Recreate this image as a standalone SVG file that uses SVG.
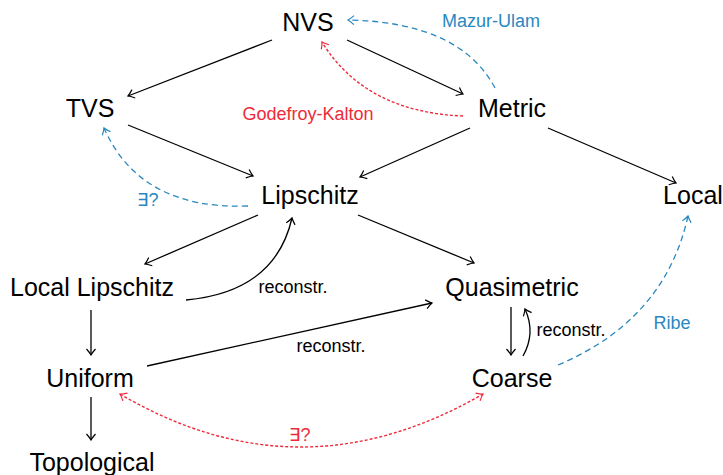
<svg xmlns="http://www.w3.org/2000/svg" width="723" height="475" viewBox="0 0 723 475">
<style>
.n{font-family:"Liberation Sans",Arial,sans-serif;font-size:25px;fill:#000;text-anchor:middle}
.s{font-family:"Liberation Sans",Arial,sans-serif;font-size:18px;text-anchor:middle}
.k{stroke:#000;stroke-width:1.3;fill:none;marker-end:url(#ak)}
.b{stroke:#2a88c0;stroke-width:1.3;fill:none;stroke-dasharray:6 4;marker-end:url(#ab)}
.r{stroke:#ee2a3a;stroke-width:1.4;fill:none;stroke-dasharray:3 2;marker-end:url(#ar)}
</style>
<defs>
<marker id="ak" viewBox="-10 -6 12 12" refX="0" refY="0" markerWidth="12" markerHeight="12" markerUnits="userSpaceOnUse" orient="auto"><path d="M-6,-4.5 Q-2,-1 0,0 Q-2,1 -6,4.5" fill="none" stroke="#000" stroke-width="1.2"/></marker>
<marker id="ab" viewBox="-10 -6 12 12" refX="0" refY="0" markerWidth="12" markerHeight="12" markerUnits="userSpaceOnUse" orient="auto"><path d="M-6,-4.5 Q-2,-1 0,0 Q-2,1 -6,4.5" fill="none" stroke="#2a88c0" stroke-width="1.2"/></marker>
<marker id="ar" viewBox="-10 -6 12 12" refX="0" refY="0" markerWidth="12" markerHeight="12" markerUnits="userSpaceOnUse" orient="auto-start-reverse"><path d="M-6,-4.5 Q-2,-1 0,0 Q-2,1 -6,4.5" fill="none" stroke="#ee2a3a" stroke-width="1.2"/></marker>
</defs>
<g id="connectors">
<path class="k" d="M272,40 L128,96"/>
<path class="k" d="M347,40 L463,94"/>
<path class="k" d="M128,125 L253,176"/>
<path class="k" d="M470,128 L360,177"/>
<path class="k" d="M548,128 L676,183"/>
<path class="k" d="M258,215 L145,264"/>
<path class="k" d="M358,215 L474,263"/>
<path class="k" d="M186,300 Q275,292 292,218"/>
<path class="k" d="M91,310 L91,355"/>
<path class="k" d="M147,366 L432,303"/>
<path class="k" d="M511,307 L511,355"/>
<path class="k" d="M523,356 Q536,333 525,309"/>
<path class="k" d="M91,397 L91,440"/>
<path class="b" d="M495,88 Q460,22 348,20"/>
<path class="b" d="M248,206 Q140,210 104,128"/>
<path class="b" d="M558,365 Q665,320 688,216"/>
<path class="r" d="M463,116 Q365,112 322,42"/>
<path class="r" style="marker-start:url(#ar)" d="M120,394 Q300,500 483,394"/>
<text class="s" x="491" y="27" fill="#2a88c0">Mazur-Ulam</text>
<text class="s" x="308" y="120" fill="#ee2a3a">Godefroy-Kalton</text>
<text class="s" x="148" y="206" fill="#2a88c0">∃?</text>
<text class="s" x="293" y="293" fill="#000">reconstr.</text>
<text class="s" x="331" y="352" fill="#000">reconstr.</text>
<text class="s" x="571" y="336" fill="#000">reconstr.</text>
<text class="s" x="672" y="329" fill="#2a88c0">Ribe</text>
<text class="s" x="300" y="441" fill="#ee2a3a">∃?</text>
</g>
<g id="nvs"><text class="n" x="308" y="31">NVS</text></g>
<g id="tvs"><text class="n" x="90" y="117">TVS</text></g>
<g id="metric"><text class="n" x="512" y="117">Metric</text></g>
<g id="lipschitz"><text class="n" x="310" y="204">Lipschitz</text></g>
<g id="local"><text class="n" x="693" y="204">Local</text></g>
<g id="local-lipschitz"><text class="n" x="92" y="296">Local Lipschitz</text></g>
<g id="quasimetric"><text class="n" x="512" y="296">Quasimetric</text></g>
<g id="uniform"><text class="n" x="90" y="387">Uniform</text></g>
<g id="coarse"><text class="n" x="512" y="387">Coarse</text></g>
<g id="topological"><text class="n" x="92" y="471">Topological</text></g>
</svg>
